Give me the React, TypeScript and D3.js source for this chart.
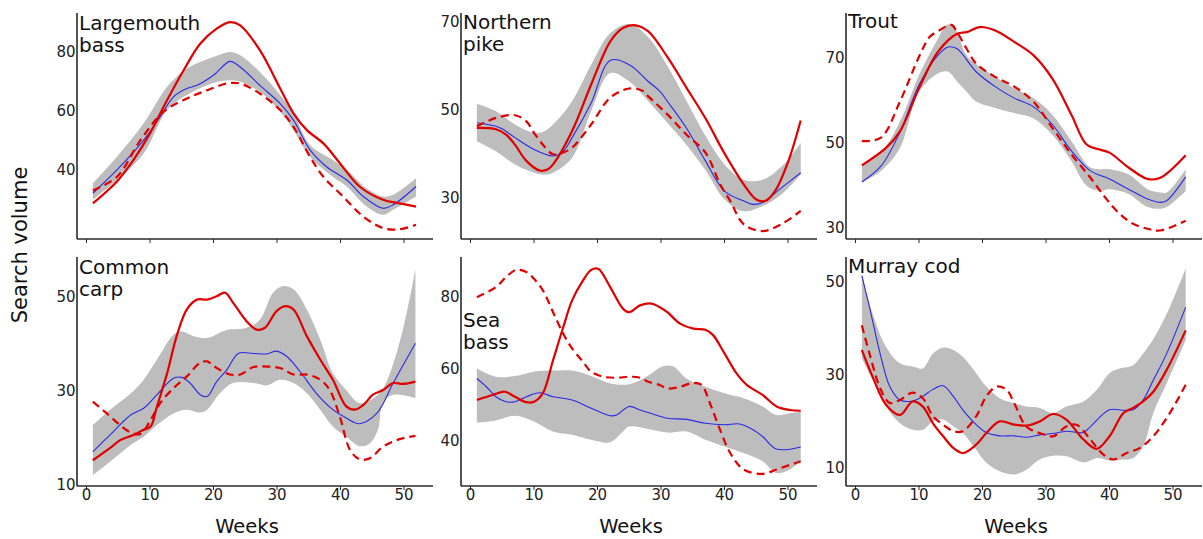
import React from "react";
import * as d3 from "d3";

// each series: [week, search volume]
const weekTicks = [0, 10, 20, 30, 40, 50];

const bassUpper = [[1,35.5],[4.8,44.5],[9,55.8],[12.7,68.2],[15.8,74.4],[20,78.3],[22.6,80],[24.2,78.9],[27.3,73.2],[30.5,65.4],[32.6,59.2],[35.2,48.5],[38.8,43.4],[41,40],[44.1,33.8],[46.7,31],[48.3,31.6],[51.9,37.2]];
const bassLower = [[1,29.9],[4.8,36.6],[9,45.6],[12.7,60.3],[15.8,65.4],[20,69.5],[22.6,70.4],[24.2,69.9],[27.3,66.5],[30.5,59.7],[32.6,53.5],[35.2,44.5],[38.8,37.7],[41,34.4],[44.1,27.6],[46.7,24.8],[48.3,26.5],[51.9,31]];
const bassMean = [[1,32.1],[4.8,40],[9,50.1],[11.6,58],[13.7,64.8],[15.8,67.6],[17.4,68.7],[20,72.1],[22.6,76.8],[24.2,74.9],[27.3,68.7],[30.5,62.5],[32.6,56.9],[35.2,46.8],[37.8,41.1],[41,36.6],[43.6,31],[46.7,27],[48.3,28.2],[51.9,34.4]];
const bassObs = [[1,28.7],[4.8,36.1],[7.4,43.4],[10,52.4],[12.7,63.7],[15.3,73.8],[17.9,82.8],[20.5,87.9],[22.6,90.1],[24.2,89],[27.3,80.6],[30.5,67.6],[32.6,59.2],[34.7,53.5],[37.3,49],[39.9,42.3],[43,34.4],[46.7,29.9],[49.3,28.7],[51.9,27.6]];
const bassDash = [[1,33],[4.8,37.7],[8.5,50.1],[12.1,59.7],[15.8,64.2],[19,67],[22.1,69.3],[24.2,69.3],[27.3,65.9],[30.5,60.3],[32.6,54.6],[35.2,44.5],[37.3,37.7],[40.4,31],[43.6,24.2],[46.7,20.3],[49.3,19.9],[51.9,21.4]];

const pikeUpper = [[1,51.3],[4,49.6],[7,46.6],[10,44.7],[11.4,44.9],[13,46.6],[16,51.9],[19,60.2],[22,67.4],[25,69.5],[28,66.5],[31,60],[34,52],[37,44],[40,37.5],[43,34],[46,34],[49,37],[52,42.4]];
const pikeLower = [[1,42.8],[4,40.5],[7,37.5],[10,35.6],[11.4,35.2],[13,35.6],[16,39],[19,49.6],[22,58.3],[25,56.4],[28,51.9],[31,47],[34,42],[37,36.2],[40,29.5],[43,26.8],[46,28],[49,30.7],[52,35.2]];
const pikeMean = [[1,47],[4,46.2],[5.1,45.5],[7,43.6],[10,40.9],[13,39.4],[14.6,40.5],[16,43.6],[19,51.5],[22,61.2],[25,60.2],[28,56.4],[29.8,54.2],[31,51.9],[34,45.8],[37,38.3],[40,31.4],[43,29.2],[44.5,28.4],[46,28.8],[49,32.2],[52,35.6]];
const pikeObs = [[1,45.8],[4,45.5],[5.6,44.3],[7,42],[8.8,38.3],[10.9,36.1],[12.2,36.4],[13,37.5],[16,45.1],[19,55.7],[22,65.5],[24,68.6],[26,69.2],[28,67.8],[31,62],[34,55],[37,48],[40,40],[43,33],[45,29.5],[46.5,29.2],[48,31.5],[50,38],[52,47.5]];
const pikeDash = [[1,46.2],[4,48.1],[7,48.7],[8.8,47.3],[10,44.7],[11.4,42],[13,39.8],[14.6,40.2],[16,41.3],[19,46.6],[22,52.7],[25,54.8],[27.2,54.2],[28,53],[31,48.9],[34,44.3],[37,40.2],[39.3,33],[40.9,29.2],[43,23.9],[46,22.3],[49,23.9],[52,26.9]];

const troutUpper = [[1,45],[4,47.7],[7,55],[10,65.9],[13,74.5],[14.3,77.7],[15.3,77.7],[16,76],[17.5,70.5],[19,68.5],[22,65.5],[25,62.8],[28,60.5],[31,56.6],[34,50.4],[37,44.2],[40,43.8],[43,42.6],[46,39.1],[48,38.3],[49,38.3],[52,43.8]];
const troutLower = [[1,40.7],[4,43.4],[7,48.8],[10,62],[13,66.3],[14.6,66.7],[16,64.4],[17.5,62],[19,59.7],[22,58.2],[25,57],[28,55.8],[31,51.9],[34,45.7],[36.4,39.9],[38.5,38.7],[40,39.1],[43,38],[46,34.9],[48,34.5],[49,34.9],[52,38.7]];
const troutMean = [[1,40.8],[4,44.5],[7,52.5],[10,63.6],[13,70.6],[14.6,72.5],[16,72.1],[19,66.7],[22,63.2],[25,60.5],[28,58.5],[31,54.3],[34,48.1],[37,43.4],[40,41.5],[43,39.1],[46,36.8],[48,36],[49,36.4],[52,42]];
const troutObs = [[1,44.7],[4.8,48.8],[7,52.7],[10,62.8],[13,71.4],[16,75.6],[17.5,76],[19.6,77.2],[22,76.4],[25,73.7],[28,70.6],[31,65.1],[34,56.6],[36.4,49.6],[38.5,48.4],[40,47.7],[43,44.2],[46,41.5],[48,41.8],[52,47.1]];
const troutDash = [[1,50.4],[4,51.2],[7,59.7],[10,70.2],[11.7,74.9],[13.2,76.4],[15.1,77.7],[16,76],[17.5,72.1],[19,68.6],[22,65.5],[25,63.2],[28,59.7],[31,53.5],[34,47.3],[37,41.8],[39.3,37.2],[41.6,33.3],[43.7,31],[46,29.8],[48,29.4],[52,31.7]];

const carpUpper = [[1,22.6],[4,26.2],[7,29.4],[9,32.3],[11.1,36.6],[13.7,41.9],[15,42.6],[16.9,41.6],[19,41.2],[22.1,42.9],[25.2,43.4],[27.3,45.1],[29.4,50.9],[31,52.3],[32.6,51.6],[34.7,47.3],[36.8,40.9],[38.8,33.7],[40.9,30.1],[43,27.3],[45,28.2],[46.5,30],[48,34.5],[50,44],[51.8,55.9]];
const carpLower = [[1,11.9],[4,15.1],[7,18.4],[9,20.1],[11.1,22.6],[13.7,25.1],[15.8,25.9],[17.9,25.3],[19,25.9],[21,29.4],[23.1,31.6],[26.3,31.6],[28.4,31.1],[30.5,32.3],[32.6,31.6],[34.7,29.4],[36.8,25.9],[38.8,22.3],[40.9,20.1],[43,18.1],[44.6,18.7],[45.9,21.6],[46.7,27.5],[48.3,29.1],[51.8,28.4]];
const carpMean = [[1,16.9],[4,20.9],[7,24.8],[9,26.2],[11.1,29.1],[13.7,32.6],[15,32.8],[16.3,31.6],[17.9,29.1],[19,28.7],[20.5,31.9],[22.1,34.4],[23.9,37.9],[26.3,37.9],[28.4,37.8],[29.9,38.4],[31.5,37.3],[33.6,34.1],[36.2,29.4],[38.8,25.9],[40.9,24.1],[43,22.9],[45.7,25.1],[48.3,31.6],[51.8,40.1]];
const carpObs = [[1,15.1],[4,18],[5.3,19.4],[7.4,20.5],[9,21.6],[10.1,22.3],[11.1,26.6],[12.7,33.7],[14.2,41.6],[15.8,47.3],[17.4,49.4],[19,49.4],[20.5,50.1],[21.8,50.9],[23.1,48.7],[25.2,44.8],[26.8,43],[28.1,43.4],[29.9,46.9],[31.3,48],[32.6,47.3],[34.7,41.6],[36.8,36.6],[38.8,32.3],[40.9,26.6],[42.3,25.9],[43.6,26.9],[45.1,29.1],[46.7,30.1],[48.3,31.6],[49.8,31.4],[51.8,31.9]];
const carpDash = [[1,27.6],[3.2,25.1],[5.3,22.6],[7,21],[8.5,20.7],[10.1,23.7],[11.6,27.3],[13.7,30.5],[15.8,33],[17.9,35.9],[19,36.2],[20.5,34.8],[22.6,33.4],[24.2,33.4],[26.3,35],[28.4,35.1],[30.5,34.8],[32.6,33.4],[34.7,33.4],[36.8,32.3],[38.3,30.1],[39.9,24.4],[41.5,17.3],[43,15.3],[44.6,15.5],[46.7,18],[49.3,19.6],[51.8,20.3]];

const seabassUpper = [[1,60],[4,57.7],[7,57.9],[10,59.1],[13,59.4],[16,59.4],[19,57.9],[22,55.8],[25,55.6],[27.7,57.7],[30.3,60.6],[31.9,60.6],[34,57.2],[37,54.9],[40,53.1],[43,51.7],[46,49.4],[48.2,47],[50.3,47.5],[52,48]];
const seabassLower = [[1,44.9],[4,45.5],[7,46.8],[10,45.2],[13,42.4],[16,41.5],[19,40.1],[22,39.4],[24,42.4],[25,43.8],[28,43.1],[31,42.1],[34,42.4],[37,40.1],[40,38.2],[43,36.4],[46,34.1],[48.2,30.8],[50.3,31.8],[52,34.1]];
const seabassMean = [[1,57.2],[2.5,54.9],[4,52.1],[5.6,50.7],[7,50.7],[8.8,52.1],[10.9,53.2],[13,52.1],[16,51.2],[19,48.9],[22,46.8],[23,47],[25,49.4],[26.7,48.4],[28,47.7],[31,46.1],[34,45.8],[37,44.7],[40,44.3],[42.4,44.5],[44.5,42.9],[46,41],[48.2,37.5],[52,38.1]];
const seabassObs = [[1,51.2],[3.5,52.6],[5.4,53.5],[7,52.1],[8.8,50.6],[10,50.7],[11.4,53.1],[13,62.3],[14.6,71.5],[16,79],[17.7,84.5],[19,87.5],[20.1,87.8],[22,82.7],[24,76.7],[25,75.7],[26.7,77.6],[28.5,78.1],[29.8,77.1],[31,75.7],[33,72.5],[35.1,71.1],[37,70.8],[38.2,69.3],[40,64.2],[41.9,58.6],[43.5,55.4],[46,52.6],[48.2,49.4],[50.3,48.4],[52,48.2]];
const seabassDash = [[1,79.9],[4,82.7],[5.6,85.5],[7.2,87.5],[8.8,86.9],[10,85],[11.4,81.8],[13,75.7],[14.6,69.7],[16,65.6],[17.7,61.9],[19,59.1],[20.9,57.7],[23,57.4],[25,57.7],[26.7,57.4],[28,56.3],[29.8,55.4],[31,54.4],[33,54.9],[35.1,56],[36.4,55.4],[37.7,50.3],[39.3,42.9],[40.9,36.4],[43,31.8],[46,30.6],[48.2,31.8],[50.3,33.1],[52,34.1]];

const codUpper = [[1,51.8],[2.7,43.2],[4.8,36.1],[7,32.5],[9,31.8],[10.6,31.4],[12.2,34.6],[13.8,35.9],[15.4,35.4],[16.9,33.9],[19,30.4],[20.6,27.5],[22.7,25],[25,23.9],[26.9,23.2],[29,22.9],[31.1,21.8],[33.2,23.2],[35.9,24.3],[38,26.8],[40,30.4],[41.6,31.4],[43.7,32.1],[45.3,34.6],[47.4,38.9],[49.5,44.6],[52,52.9]];
const codLower = [[1,33.6],[2.7,28.9],[4.8,23.2],[7,19.6],[9,18.2],[10.6,18.2],[12.2,20],[13.8,20.4],[15.4,18.9],[16.9,17.5],[19,13.9],[20.6,11.1],[22.7,9.3],[25,8.6],[26.9,9.6],[29,11.8],[31.1,12.6],[33.2,12.5],[35.9,11.2],[38,12.1],[40,11.6],[42.2,11.8],[43.7,12.1],[45.3,14.6],[46.9,21.8],[49,28.2],[52,37.5]];
const codMean = [[1,51.4],[2.2,44.6],[4,33.9],[5.4,27.5],[7,24.6],[9,24.4],[10.6,25.4],[12.2,26.9],[13.8,27.7],[15.4,25.4],[16.9,22.5],[19,19.3],[20.6,17.6],[22.7,16.9],[25,16.9],[26.9,16.6],[29,17.1],[31.1,17.4],[33.2,17.9],[35.9,17.6],[37,18.9],[40,22.5],[42.2,22.4],[43.7,22.5],[45.3,24.6],[46.9,28.9],[49,34.6],[52,44.6]];
const codObs = [[1,35.4],[2.7,29.6],[4.8,23.6],[7,21.4],[9,24.3],[10.6,23.2],[12.2,19.6],[13.8,16.8],[15.4,14.3],[16.9,13.2],[19,15],[20.6,17.5],[22.7,20],[25,19.3],[26.9,19.1],[29,20],[31.1,21.6],[33.2,20.4],[35.9,16.1],[38,14.1],[40,16.8],[42.2,21.8],[43.7,22.9],[45.3,24.3],[46.9,26.4],[49,31.1],[52,39.6]];
const codDash = [[1,40.7],[2.2,34.6],[4,26.8],[5.4,24],[7,24.6],[9,26.2],[10.6,25],[12.2,21.1],[13.8,19.3],[15.4,17.9],[16.9,17.9],[19,21.1],[20.6,25.4],[22.2,27.5],[23.8,26.8],[25,23.9],[26.9,18.9],[29,17.5],[31.1,16.8],[33.2,18.9],[34.8,19.3],[37,16.1],[39,12.9],[40.6,11.8],[42.7,13.2],[44.8,14.3],[46.9,16.8],[49.5,21.8],[52,27.9]];

const panels = [
  { title: ["Largemouth", "bass"], col: 0, row: 0, extent: [16.6, 93.2], ticks: [40, 60, 80], titleDy: 0, upper: bassUpper, lower: bassLower, mean: bassMean, obs: bassObs, dash: bassDash },
  { title: ["Northern", "pike"], col: 1, row: 0, extent: [20.5, 72], ticks: [30, 50, 70], titleDy: -1, upper: pikeUpper, lower: pikeLower, mean: pikeMean, obs: pikeObs, dash: pikeDash },
  { title: ["Trout"], col: 2, row: 0, extent: [27.4, 80.5], ticks: [30, 50, 70], titleDy: -2, upper: troutUpper, lower: troutLower, mean: troutMean, obs: troutObs, dash: troutDash },
  { title: ["Common", "carp"], col: 0, row: 1, extent: [9.6, 58.5], ticks: [10, 30, 50], titleDy: 0, upper: carpUpper, lower: carpLower, mean: carpMean, obs: carpObs, dash: carpDash },
  { title: ["Sea", "bass"], col: 1, row: 1, extent: [27.2, 91.1], ticks: [40, 60, 80], titleDy: 53, upper: seabassUpper, lower: seabassLower, mean: seabassMean, obs: seabassObs, dash: seabassDash },
  { title: ["Murray cod"], col: 2, row: 1, extent: [6.1, 55.4], ticks: [10, 30, 50], titleDy: -1, upper: codUpper, lower: codLower, mean: codMean, obs: codObs, dash: codDash }
];

const width = 1203,
  height = 539;
const colLeft = [77, 461, 846];
const axisW = 356;
const rowTop = [13, 257];
const rowBottom = [239, 486];
const axisColor = "#2a2a2a";
const red = "#e00000";

function Panel({ p }) {
  const left = colLeft[p.col];
  const top = rowTop[p.row];
  const bottom = rowBottom[p.row];

  const x = d3.scaleLinear().domain([0, 50]).range([left + 9.5, left + 9.5 + 317.5]);
  const y = d3.scaleLinear().domain(p.extent).range([bottom, top]);

  const line = d3
    .line()
    .x(d => x(d[0]))
    .y(d => y(d[1]))
    .curve(d3.curveCatmullRom.alpha(0.5));

  const band =
    line(p.upper) + "L" + line([...p.lower].reverse()).slice(1) + "Z";

  const titleY = (p.row === 0 ? 30 : 274) + p.titleDy;

  return (
    <g>
      <path d={band} fill="#bdbdbd" stroke="none" />
      <path d={line(p.mean)} fill="none" stroke="#2a2ae6" strokeWidth={1.1} />
      <path
        d={line(p.dash)}
        fill="none"
        stroke={red}
        strokeWidth={2.2}
        strokeDasharray="8,5"
      />
      <path d={line(p.obs)} fill="none" stroke={red} strokeWidth={2.2} />

      {/* axes */}
      <line x1={left} x2={left} y1={top} y2={bottom} stroke={axisColor} strokeWidth={1.6} />
      <line x1={left} x2={left + axisW} y1={bottom} y2={bottom} stroke={axisColor} strokeWidth={1.6} />
      {weekTicks.map(t => (
        <line key={t} x1={x(t)} x2={x(t)} y1={bottom} y2={bottom + 4} stroke={axisColor} strokeWidth={1} />
      ))}
      {p.row === 1 &&
        weekTicks.map(t => (
          <text key={"l" + t} x={x(t)} y={bottom + 14} textAnchor="middle" fontSize={15} fill="#222">
            {t}
          </text>
        ))}
      {p.ticks.map(t => (
        <text key={"y" + t} x={left - 1.5} y={y(t)} dy="0.36em" textAnchor="end" fontSize={15} fill="#222">
          {t}
        </text>
      ))}
      {p.row === 1 && (
        <text x={left + 170} y={533} textAnchor="middle" fontSize={19.5} fill="#111">
          Weeks
        </text>
      )}

      {p.title.map((s, i) => (
        <text key={s} x={left + 2} y={titleY + i * 22} fontSize={20} fill="#111">
          {s}
        </text>
      ))}
    </g>
  );
}

export default function App() {
  return (
    <svg
      width={width}
      height={height}
      style={{ position: "absolute", left: 0, top: 0, background: "#fff", fontFamily: "DejaVu Sans" }}
    >
      <rect width={width} height={height} fill="#fff" />
      {panels.map(p => (
        <Panel key={p.title.join(" ")} p={p} />
      ))}
      <text
        transform="translate(27,245) rotate(-90)"
        textAnchor="middle"
        fontSize={21}
        fill="#111"
      >
        Search volume
      </text>
    </svg>
  );
}
